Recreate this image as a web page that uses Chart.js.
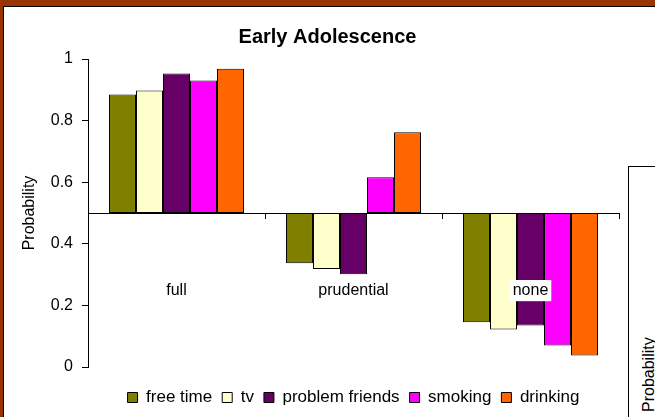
<!DOCTYPE html>
<html>
<head>
<meta charset="utf-8">
<script src="https://cdn.jsdelivr.net/npm/chart.js@4/dist/chart.umd.min.js"></script>
<style>
html, body { margin: 0; padding: 0; background: #fff; }
#wrap { position: relative; width: 655px; height: 417px; overflow: hidden; background: #fff; }
#frameTop { position: absolute; left: 0; top: 0; width: 655px; height: 6px; background: #993300; }
#frameLeft { position: absolute; left: 0; top: 0; width: 3px; height: 417px; background: #993300; }
#lineTop { position: absolute; left: 3px; top: 6px; width: 652px; height: 1px; background: #000; }
#lineLeft { position: absolute; left: 3px; top: 6px; width: 1px; height: 411px; background: #000; }
#other { position: absolute; left: 628px; top: 166px; width: 60px; height: 300px; border-left: 1px solid #000; border-top: 1px solid #000; }
#otherLabel { position: absolute; left: 641px; top: 412px; font: 16px "Liberation Sans", Arial, sans-serif; line-height: 16px; white-space: nowrap; transform-origin: 0 0; transform: rotate(-90deg); color: #000; }
canvas { position: absolute; left: 0; top: 0; }
</style>
</head>
<body>
<div id="wrap">
  <div id="frameTop"></div>
  <div id="frameLeft"></div>
  <div id="lineTop"></div>
  <div id="lineLeft"></div>
  <div id="other"></div>
  <div id="otherLabel">Probability</div>
  <canvas id="c" width="655" height="417"></canvas>
</div>
<script>
// ---- data ----
const categories = ['full', 'prudential', 'none'];
const seriesNames = ['free time', 'tv', 'problem friends', 'smoking', 'drinking'];
const freeTime       = [0.885, 0.337, 0.145];
const tv             = [0.898, 0.318, 0.122];
const problemFriends = [0.953, 0.301, 0.135];
const smoking        = [0.930, 0.616, 0.070];
const drinking       = [0.968, 0.762, 0.037];
const baseline = 0.5;
const yTicks = [0, 0.2, 0.4, 0.6, 0.8, 1];
const titleText = 'Early Adolescence';
const yTitle = 'Probability';

// ---- styles ----
const colors = ['#808000', '#FFFFCC', '#660066', '#FF00FF', '#FF6600'];
const FAMILY = '"Liberation Sans", Arial, sans-serif';

const seriesValues = [freeTime, tv, problemFriends, smoking, drinking];
const datasets = seriesNames.map((name, i) => ({
  label: name,
  data: seriesValues[i].map(v => [baseline, v]),
  backgroundColor: colors[i],
  borderColor: '#000',
  borderWidth: { top: 1, right: 1, bottom: 1, left: 1 },
  borderSkipped: false,
  xAxisID: 'x',
  yAxisID: 'y',
  barPercentage: 1.0,
  categoryPercentage: 0.763
}));

Chart.defaults.font.family = FAMILY;
Chart.defaults.color = '#000';

new Chart(document.getElementById('c'), {
  type: 'bar',
  data: { labels: categories, datasets },
  options: {
    responsive: false,
    animation: false,
    devicePixelRatio: 1,
    layout: { padding: { left: 0, right: 0, top: 0, bottom: 1 } },
    plugins: {
      title: {
        display: true, text: titleText, color: '#000',
        font: { size: 20, weight: 'bold', family: FAMILY },
        padding: { top: 25.5, bottom: 9.5 }
      },
      legend: {
        position: 'bottom', fullSize: false,
        labels: { boxWidth: 10, boxHeight: 10, padding: 10, color: '#000', font: { size: 17, family: FAMILY } }
      },
      tooltip: { enabled: false }
    },
    scales: {
      x: {
        type: 'category',
        position: { y: baseline },
        offset: true,
        grid: { display: true, drawOnChartArea: false, drawTicks: true, tickLength: 5, tickColor: '#000', offset: true },
        border: { display: true, color: '#000', width: 1 },
        ticks: {
          padding: 63, color: '#000', font: { size: 16, family: FAMILY },
          maxRotation: 0, autoSkip: false,
          showLabelBackdrop: true, backdropColor: '#fff', backdropPadding: { x: 3, y: 1 },
          z: 1
        }
      },
      y: {
        type: 'linear', position: 'left', min: 0, max: 1,
        afterBuildTicks: s => { s.ticks = yTicks.map(v => ({ value: v })); },
        afterFit: s => { s.width = 88; },
        grid: { drawOnChartArea: false, tickLength: 6, tickColor: '#000' },
        border: { display: true, color: '#000', width: 1 },
        ticks: { padding: 9, color: '#000', font: { size: 16, family: FAMILY }, callback: v => String(v) },
        title: { display: true, text: yTitle, color: '#000', font: { size: 16, family: FAMILY }, padding: { top: 20, bottom: 0 } }
      },
      padR: {
        type: 'linear', position: 'right', display: true,
        grid: { display: false }, border: { display: false }, ticks: { display: false },
        afterFit: s => { s.width = 36; }
      },
      padB: {
        type: 'linear', position: 'bottom', display: true,
        grid: { display: false }, border: { display: false }, ticks: { display: false },
        afterFit: s => { s.height = 12; }
      }
    }
  }
});
</script>
</body>
</html>
